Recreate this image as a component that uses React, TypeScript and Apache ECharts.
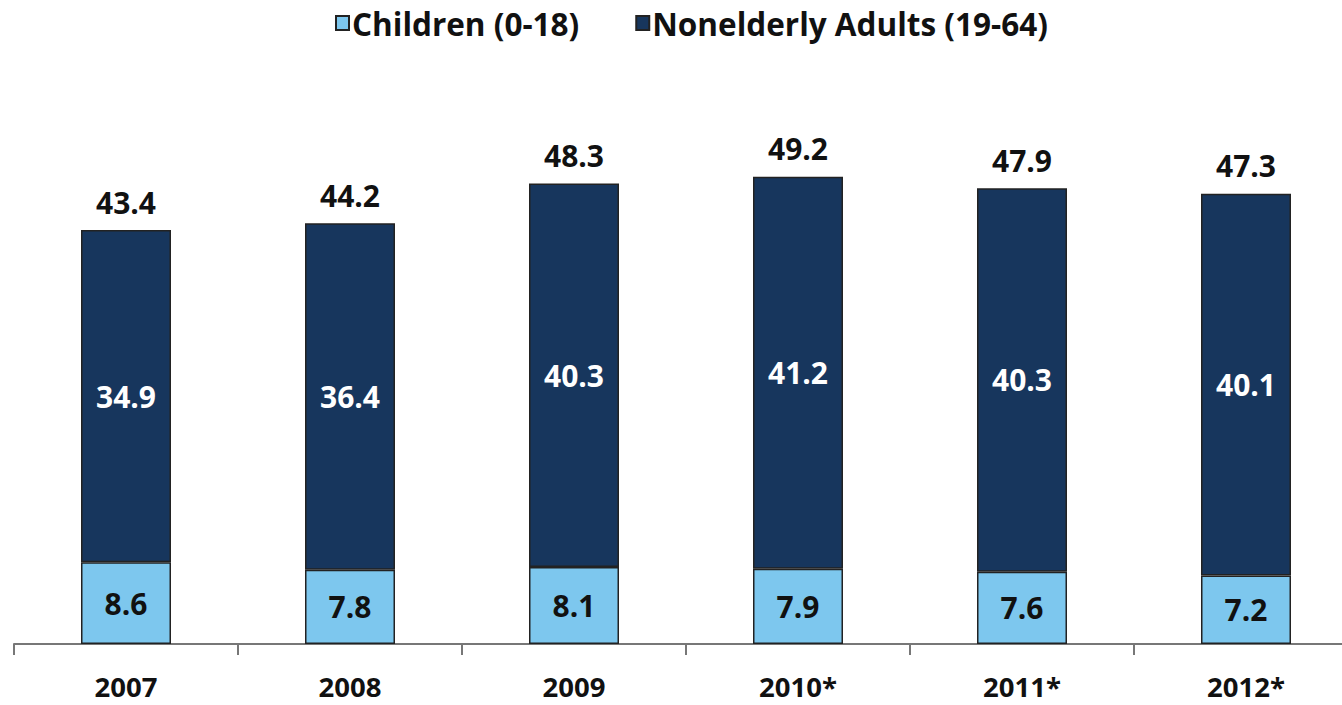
import React, { useEffect, useRef } from "react";
import * as echarts from "echarts";

const categories = ["2007", "2008", "2009", "2010*", "2011*", "2012*"];
const children = [8.6, 7.8, 8.1, 7.9, 7.6, 7.2];
const adults = [34.9, 36.4, 40.3, 41.2, 40.3, 40.1];
const totals = [43.4, 44.2, 48.3, 49.2, 47.9, 47.3];

const FONT = "Open Sans";

export default function App() {
  const ref = useRef<HTMLDivElement>(null);
  useEffect(() => {
    if (!ref.current) return;
    const chart = echarts.init(ref.current, null, { renderer: "svg" });
    chart.setOption({
      animation: false,
      textStyle: { fontFamily: FONT },
      legend: {
        data: ["Children (0-18)", "Nonelderly Adults (19-64)"],
        left: 335,
        top: 3,
        padding: 0,
        icon: "rect",
        itemWidth: 13,
        itemHeight: 14,
        itemGap: 56,
        textStyle: {
          fontSize: 31.5,
          lineHeight: 40,
          fontWeight: "bold",
          color: "#111",
          fontFamily: FONT,
          padding: [0, 0, 0, -2],
        },
      },
      grid: { left: 14, right: 0, top: 73, bottom: 61 },
      xAxis: {
        type: "category",
        data: categories,
        axisLine: { lineStyle: { color: "#777", width: 2 } },
        axisTick: { show: true, length: 11, lineStyle: { color: "#777", width: 2 } },
        axisLabel: {
          fontSize: 27.5,
          lineHeight: 27,
          fontWeight: "bold",
          color: "#111",
          margin: 29,
          fontFamily: FONT,
        },
      },
      yAxis: {
        type: "value",
        min: 0,
        max: 60,
        show: false,
        splitLine: { show: false },
      },
      series: [
        {
          name: "Children (0-18)",
          type: "bar",
          stack: "total",
          data: children,
          barWidth: 90,
          itemStyle: { color: "#7DC7EE", borderColor: "#222", borderWidth: 1.5 },
          label: {
            show: true,
            position: "inside",
            fontSize: 30,
            fontWeight: "bold",
            color: "#111",
            fontFamily: FONT,
            formatter: (p: any) => p.value.toFixed(1),
          },
        },
        {
          name: "Nonelderly Adults (19-64)",
          type: "bar",
          stack: "total",
          data: adults,
          barWidth: 90,
          itemStyle: { color: "#17365D", borderColor: "#222", borderWidth: 1.5 },
          label: {
            show: true,
            position: "inside",
            fontSize: 30,
            fontWeight: "bold",
            color: "#fff",
            fontFamily: FONT,
            formatter: (p: any) => p.value.toFixed(1),
          },
        },
        {
          name: "Total",
          type: "bar",
          stack: "total",
          data: totals.map(() => 0),
          barWidth: 90,
          itemStyle: { color: "transparent", borderWidth: 0 },
          label: {
            show: true,
            position: "top",
            distance: 13,
            fontSize: 30,
            fontWeight: "bold",
            color: "#111",
            fontFamily: FONT,
            formatter: (p: any) => totals[p.dataIndex].toFixed(1),
          },
        },
      ],
    });
    return () => chart.dispose();
  }, []);
  return (
    <div
      ref={ref}
      style={{ position: "fixed", left: 0, top: 0, width: 1358, height: 705, background: "#fff" }}
    />
  );
}
